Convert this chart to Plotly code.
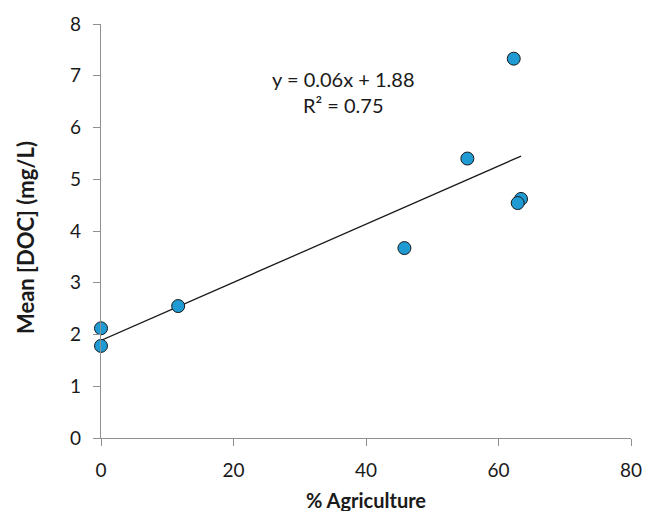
import numpy as np
import plotly.graph_objects as go

# Data
agriculture_pct = [0, 0, 11.65, 45.8, 55.3, 62.3, 63.4, 62.9]
mean_doc = [2.12, 1.78, 2.55, 3.67, 5.40, 7.33, 4.62, 4.54]
x_ticks = [0, 20, 40, 60, 80]
y_ticks = [0, 1, 2, 3, 4, 5, 6, 7, 8]
equation_label = "y = 0.06x + 1.88<br>R² = 0.75"
x_title = "% Agriculture"
y_title = "Mean [DOC] (mg/L)"

# Linear trendline from the data
slope, intercept = np.polyfit(agriculture_pct, mean_doc, 1)
trend_x = [min(agriculture_pct), max(agriculture_pct)]
trend_y = [slope * v + intercept for v in trend_x]

FONT = "Lato"
axis_col = "#8f8f8f"
text_col = "#1a1a1a"

fig = go.Figure()
fig.add_trace(go.Scatter(
    x=trend_x, y=trend_y, mode="lines",
    line=dict(color="#1a1a1a", width=1.3),
    showlegend=False, hoverinfo="skip", cliponaxis=False))
fig.add_trace(go.Scatter(
    x=agriculture_pct, y=mean_doc, mode="markers",
    marker=dict(size=13, color="#1f9ad3", line=dict(color="#1a1a1a", width=1)),
    showlegend=False, cliponaxis=False))

fig.add_annotation(
    x=36.6, y=6.68, xref="x", yref="y", text=equation_label,
    showarrow=False, align="center",
    font=dict(family=FONT, size=20, color=text_col))

# Axis titles as annotations for precise placement
fig.add_annotation(
    x=0, y=0.483, xref="paper", yref="paper", text="<b>" + y_title + "</b>",
    textangle=-90, showarrow=False, xanchor="center", yanchor="middle",
    xshift=-76, font=dict(family=FONT, size=22, color=text_col))
fig.add_annotation(
    x=0.5, y=0, xref="paper", yref="paper", text="<b>" + x_title + "</b>",
    showarrow=False, xanchor="center", yanchor="middle",
    yshift=-62, font=dict(family=FONT, size=20, color=text_col))

fig.update_layout(
    width=654, height=511,
    margin=dict(l=101, r=14, t=23, b=73),
    paper_bgcolor="white", plot_bgcolor="white",
    font=dict(family=FONT, size=19, color=text_col),
)
fig.update_xaxes(
    range=[0, 80], tickvals=x_ticks, showgrid=False, zeroline=False,
    showline=True, linecolor=axis_col, linewidth=1.3,
    ticks="outside", ticklen=7, tickcolor=axis_col, tickwidth=1.3,
    ticklabelstandoff=8,
    tickfont=dict(family=FONT, size=19, color=text_col))
fig.update_yaxes(
    range=[0, 8], tickvals=y_ticks, showgrid=False, zeroline=False,
    showline=True, linecolor=axis_col, linewidth=1.3,
    ticks="outside", ticklen=7, tickcolor=axis_col, tickwidth=1.3,
    ticklabelstandoff=8,
    tickfont=dict(family=FONT, size=19, color=text_col))

fig.write_html(
    "out.html",
    config={"displayModeBar": False},
    post_script="document.body.style.margin='0';document.body.style.overflow='hidden';")
